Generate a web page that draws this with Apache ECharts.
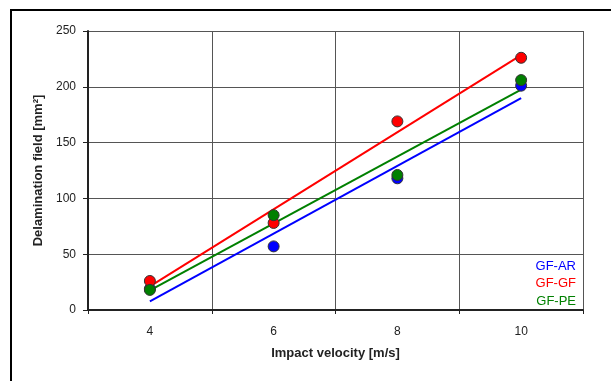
<!DOCTYPE html>
<html>
<head>
<meta charset="utf-8">
<script src="https://cdn.jsdelivr.net/npm/echarts@6/dist/echarts.min.js"></script>
<style>
html,body{margin:0;padding:0;background:#fff;}
#wrap{position:relative;width:611px;height:381px;overflow:hidden;}
#frame{position:absolute;left:10px;top:9px;width:700px;height:500px;border:2px solid #000;box-sizing:border-box;}
#chart{position:absolute;left:0;top:0;width:611px;height:381px;}
</style>
</head>
<body>
<div id="wrap"><div id="frame"></div><div id="chart"></div></div>
<script>
const velocities = [4, 6, 8, 10];
const gfAR = [19, 57, 118, 201];
const gfGF = [26, 78, 169, 226];
const gfPE = [18, 85, 121, 206];
const seriesNames = ['GF-AR', 'GF-GF', 'GF-PE'];
const seriesColors = ['#0000ff', '#ff0000', '#008000'];
const yTicks = [0, 50, 100, 150, 200, 250];
const xLabelTicks = [4, 6, 8, 10];

function fit(xs, ys) {
  const n = xs.length;
  const mx = xs.reduce((a, b) => a + b, 0) / n;
  const my = ys.reduce((a, b) => a + b, 0) / n;
  let sxy = 0, sxx = 0;
  for (let i = 0; i < n; i++) { sxy += (xs[i] - mx) * (ys[i] - my); sxx += (xs[i] - mx) ** 2; }
  const b = sxy / sxx, a = my - b * mx;
  const x0 = Math.min(...xs), x1 = Math.max(...xs);
  return [[x0, a + b * x0], [x1, a + b * x1]];
}

const allData = [gfAR, gfGF, gfPE];
const series = [];
allData.forEach((ys, i) => {
  series.push({
    name: seriesNames[i] + ' trend', type: 'line', xAxisIndex: 1,
    data: fit(velocities, ys), symbol: 'none', silent: true,
    lineStyle: { color: seriesColors[i], width: 2 }, z: 2
  });
});
allData.forEach((ys, i) => {
  series.push({
    name: seriesNames[i], type: 'scatter', xAxisIndex: 1,
    data: velocities.map((x, k) => [x, ys[k]]),
    symbol: 'circle', symbolSize: 11,
    itemStyle: { color: seriesColors[i], borderColor: '#333', borderWidth: 1, opacity: 1 },
    z: 3 + i
  });
});

const chart = echarts.init(document.getElementById('chart'), null, { renderer: 'canvas' });
chart.setOption({
  animation: false,
  backgroundColor: 'transparent',
  textStyle: { fontFamily: 'Liberation Sans, Arial, sans-serif' },
  grid: { left: 88, right: 28, top: 31, bottom: 71, containLabel: false },
  legend: {
    orient: 'vertical', right: 30, top: 259, align: 'right', padding: 0,
    icon: 'none', itemWidth: 0, itemHeight: 14, itemGap: 4,
    textStyle: { fontSize: 13, fontFamily: 'Liberation Sans, Arial, sans-serif', padding: 0 },
    selectedMode: false,
    data: seriesNames.map((n, i) => ({ name: n, textStyle: { color: seriesColors[i] } }))
  },
  xAxis: [
    {
      type: 'value', min: 0, max: 4, interval: 1, position: 'bottom',
      axisLine: { show: true, onZero: false, lineStyle: { color: '#222', width: 2 } },
      axisTick: { show: true, length: 4, lineStyle: { color: '#222', width: 1 } },
      axisLabel: { show: false },
      splitLine: { show: true, lineStyle: { color: '#555', width: 1 } }
    },
    {
      type: 'value', min: 3, max: 11, interval: 1, position: 'bottom',
      axisLine: { show: false }, axisTick: { show: false }, splitLine: { show: false },
      axisLabel: {
        margin: 16, fontSize: 12, color: '#222',
        formatter: v => xLabelTicks.includes(v) ? String(v) : ''
      },
      name: 'Impact velocity [m/s]', nameLocation: 'middle', nameGap: 37,
      nameTextStyle: { fontWeight: 'bold', fontSize: 13, color: '#222' }
    }
  ],
  yAxis: {
    type: 'value', min: yTicks[0], max: yTicks[yTicks.length - 1], interval: 50,
    axisLine: { show: true, lineStyle: { color: '#222', width: 2 } },
    axisTick: { show: true, length: 5, lineStyle: { color: '#222' } },
    axisLabel: { margin: 12, fontSize: 12, color: '#222' },
    splitLine: { show: true, lineStyle: { color: '#555', width: 1 } },
    name: 'Delamination field [mm²]', nameLocation: 'middle', nameGap: 38,
    nameTextStyle: { fontWeight: 'bold', fontSize: 13, color: '#222' }
  },
  series: series
});
</script>
</body>
</html>
